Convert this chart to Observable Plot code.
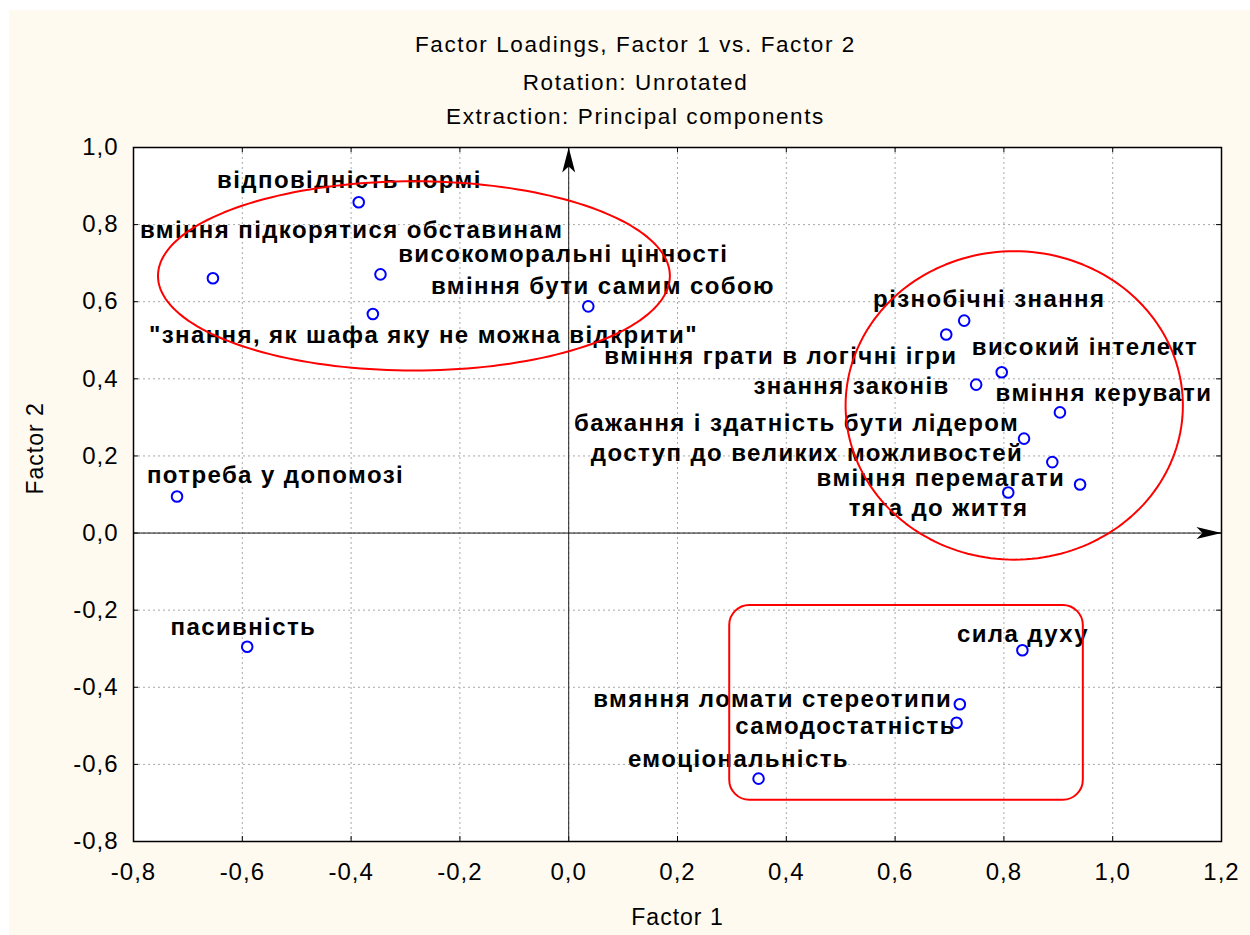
<!DOCTYPE html>
<html><head><meta charset="utf-8">
<script src="https://cdn.jsdelivr.net/npm/d3@7"></script>
<script src="https://cdn.jsdelivr.net/npm/@observablehq/plot@0.6"></script>
<style>
html,body{margin:0;padding:0;background:#fff;}
#wrap{position:absolute;left:9px;top:10px;width:1241px;height:925px;background:#fffaf0;font-family:"Liberation Sans",Arial,sans-serif;}
.t{position:absolute;left:6px;width:1241px;text-align:center;font-size:22.5px;line-height:30px;letter-spacing:1.6px;color:#000;}
#chart{position:absolute;left:0;top:125px;}
#chart svg{letter-spacing:1px;overflow:visible;}
</style></head><body>
<div id="wrap">
<div class="t" style="top:20px">Factor Loadings, Factor 1 vs. Factor 2</div>
<div class="t" style="top:58px">Rotation: Unrotated</div>
<div class="t" style="top:92px">Extraction: Principal components</div>
<div id="chart"></div>
</div>
<script>
const variables = [
  "відповідність нормі",
  "вміння підкорятися обставинам",
  "високоморальні цінності",
  "вміння бути самим собою",
  "\"знання, як шафа яку не можна відкрити\"",
  "потреба у допомозі",
  "пасивність",
  "різнобічні знання",
  "вміння грати в логічні ігри",
  "високий інтелект",
  "знання законів",
  "вміння керувати",
  "бажання і здатність бути лідером",
  "доступ до великих можливостей",
  "вміння перемагати",
  "тяга до життя",
  "сила духу",
  "вмяння ломати стереотипи",
  "самодостатність",
  "емоціональність"
];
const factor1 = [-0.386, -0.654, -0.346, 0.036, -0.360, -0.720, -0.591, 0.727, 0.694, 0.796, 0.749, 0.903, 0.837, 0.889, 0.940, 0.808, 0.834, 0.719, 0.713, 0.349];
const factor2 = [0.858, 0.661, 0.671, 0.588, 0.568, 0.095, -0.295, 0.551, 0.515, 0.417, 0.385, 0.313, 0.245, 0.184, 0.126, 0.105, -0.304, -0.444, -0.492, -0.637];
// label anchor (centre) positions, in factor units
const labelFactor1 = [-0.403, -0.399, -0.010, 0.063, -0.267, -0.539, -0.598, 0.773, 0.390, 0.949, 0.520, 0.984, 0.419, 0.438, 0.684, 0.680, 0.835, 0.375, 0.509, 0.312];
const labelFactor2 = [0.914, 0.785, 0.724, 0.640, 0.512, 0.149, -0.244, 0.605, 0.458, 0.481, 0.380, 0.363, 0.284, 0.207, 0.141, 0.063, -0.263, -0.430, -0.502, -0.588];

const xDomain = [-0.8, 1.2];
const yDomain = [-0.8, 1.0];
const xTicks = [-0.8, -0.6, -0.4, -0.2, 0.0, 0.2, 0.4, 0.6, 0.8, 1.0, 1.2];
const yTicks = [-0.8, -0.6, -0.4, -0.2, 0.0, 0.2, 0.4, 0.6, 0.8, 1.0];

// hand-drawn group outlines (centre and radii in factor units)
const groupEllipses = [
  {cx: -0.2845, cy: 0.667, rx: 0.4705, ry: 0.2455},
  {cx: 0.819, cy: 0.331, rx: 0.310, ry: 0.400}
];
const groupBox = [{x1: 0.296, x2: 0.946, y1: -0.693, y2: -0.188}];

const points = variables.map((name, i) => ({name, f1: factor1[i], f2: factor2[i], lx: labelFactor1[i], ly: labelFactor2[i]}));
const ellipsePts = groupEllipses.flatMap((e, g) => d3.range(0, 361, 2).map(a => ({g, x: e.cx + e.rx * Math.cos(a * Math.PI / 180), y: e.cy + e.ry * Math.sin(a * Math.PI / 180)})));
const fmt = d => d.toFixed(1).replace(".", ",");

const arrowUp = {draw(ctx) { ctx.moveTo(0, 0); ctx.lineTo(-6.5, 25); ctx.lineTo(0, 19); ctx.lineTo(6.5, 25); ctx.closePath(); }};
const arrowRight = {draw(ctx) { ctx.moveTo(0, 0); ctx.lineTo(-25, -6); ctx.lineTo(-19, 0); ctx.lineTo(-25, 6); ctx.closePath(); }};

const W = 1241, H = 800, mT = 12, mB = 94, innerH = H - mT - mB, innerW = W - 124 - 29;
const FONT = "Liberation Sans, Arial, sans-serif";

const chart = Plot.plot({
  width: W, height: H,
  marginTop: mT, marginBottom: mB, marginLeft: 124, marginRight: 29,
  x: {domain: xDomain, axis: null},
  y: {domain: yDomain, axis: null},
  style: {background: "transparent", fontFamily: FONT, color: "#000", overflow: "visible"},
  marks: [
    Plot.frame({fill: "white", stroke: "none"}),
    Plot.ruleX(xTicks, {stroke: "#a8a8a8", strokeDasharray: "2,3"}),
    Plot.ruleY(yTicks, {stroke: "#a8a8a8", strokeDasharray: "2,3"}),
    Plot.tickX(xTicks, {x: d => d, insetTop: innerH - 5, stroke: "#000"}),
    Plot.tickX(xTicks, {x: d => d, insetBottom: innerH - 5, stroke: "#000"}),
    Plot.tickY(yTicks, {y: d => d, insetRight: innerW - 5, stroke: "#000"}),
    Plot.tickY(yTicks, {y: d => d, insetLeft: innerW - 5, stroke: "#000"}),
    Plot.ruleX([0], {stroke: "#222", strokeWidth: 1}),
    Plot.ruleY([0], {stroke: "#111", strokeWidth: 1}),
    Plot.text(points, {x: "lx", y: "ly", text: "name", fontSize: 24, fontWeight: "bold", fill: "#000", textAnchor: "middle", lineAnchor: "middle", fontFamily: FONT}),
    Plot.line(ellipsePts, {x: "x", y: "y", z: "g", stroke: "#ff0000", strokeWidth: 2, curve: "linear"}),
    Plot.rect(groupBox, {x1: "x1", x2: "x2", y1: "y1", y2: "y2", rx: 20, fill: "none", stroke: "#ff0000", strokeWidth: 2}),
    Plot.dot(points, {x: "f1", y: "f2", r: 5.3, stroke: "#0000ff", strokeWidth: 2, fill: "none"}),
    Plot.frame({stroke: "#000", strokeWidth: 1.5}),
    Plot.dot([{x: 0, y: yDomain[1]}], {x: "x", y: "y", symbol: arrowUp, fill: "#000", stroke: "none", r: 5}),
    Plot.dot([{x: xDomain[1], y: 0}], {x: "x", y: "y", symbol: arrowRight, fill: "#000", stroke: "none", r: 5}),
    Plot.text(xTicks, {x: d => d, frameAnchor: "bottom", dy: 31, text: fmt, fontSize: 24, lineAnchor: "middle", textAnchor: "middle", fill: "#000"}),
    Plot.text(yTicks, {y: d => d, frameAnchor: "left", dx: -15, text: fmt, fontSize: 24, lineAnchor: "middle", textAnchor: "end", fill: "#000"}),
    Plot.text(["Factor 1"], {frameAnchor: "bottom", dy: 76, text: d => d, fontSize: 23, lineAnchor: "middle", fill: "#000"}),
    Plot.text(["Factor 2"], {frameAnchor: "left", dx: -98, rotate: -90, text: d => d, fontSize: 23, lineAnchor: "middle", fill: "#000"})
  ]
});
chart.querySelectorAll('g[font-weight="bold"]').forEach(g => g.style.letterSpacing = "1.4px");
document.getElementById("chart").appendChild(chart);
</script>
</body></html>
